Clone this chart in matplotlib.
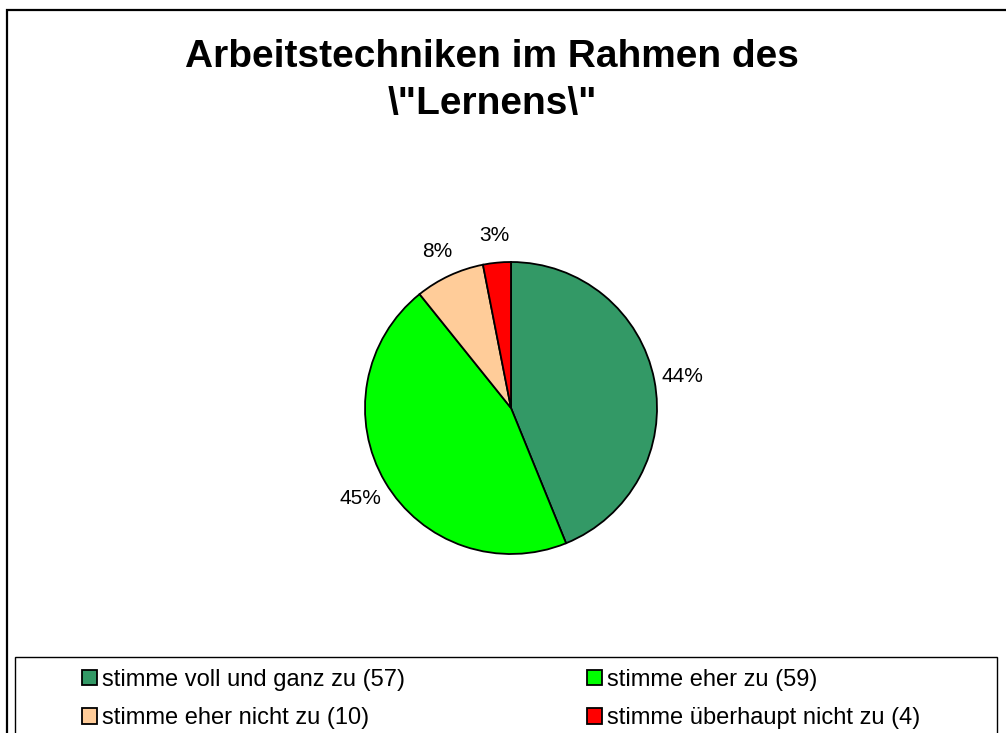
import matplotlib.pyplot as plt
from matplotlib.patches import Rectangle

# ==============================================================
# Data
# ==============================================================
labels = [
    "stimme voll und ganz zu (57)",
    "stimme eher zu (59)",
    "stimme eher nicht zu (10)",
    "stimme überhaupt nicht zu (4)",
]
counts = [57, 59, 10, 4]
colors = ["#339966", "#00ff00", "#ffcc99", "#ff0000"]
title = 'Arbeitstechniken im Rahmen des\n\\"Lernens\\"'

W, H = 1006, 733

plt.rcParams['font.family'] = ['Liberation Sans', 'DejaVu Sans']

fig = plt.figure(figsize=(W / 100, H / 100), dpi=100)

# outer chart frame (right and bottom edges run off the picture)
fig.add_artist(Rectangle((7 / W, -0.1), 1.2, 1 - 10 / H + 0.1,
                         transform=fig.transFigure, fill=False,
                         edgecolor='black', lw=1.6))

# pie axes: centre (511, 408) px, radius 146 px
cx, cy, r = 511, 408, 146
ax = fig.add_axes([(cx - r) / W, (H - cy - r) / H, 2 * r / W, 2 * r / H])
wedges, texts = ax.pie(counts, colors=colors, startangle=90, counterclock=False,
                       autopct='%.0f%%', pctdistance=1.2,
                       wedgeprops=dict(edgecolor='black', linewidth=1.3),
                       textprops=dict(fontsize=15, color='black',
                                      va='center_baseline'))[:2]
ax.set_xlim(-1, 1)
ax.set_ylim(-1, 1)
ax.set_aspect('equal')

fig.text(492 / W, 1 - 39 / H, title, ha='center', va='top',
         fontsize=28, fontweight='bold', linespacing=1.4)

# legend box
fig.add_artist(Rectangle((15 / W, -0.1), (997 - 15) / W, 0.1 + (H - 657) / H,
                         transform=fig.transFigure, fill=False,
                         edgecolor='black', lw=1.0))

# legend is filled row by row in the reference
order = [0, 2, 1, 3]
fig.legend([wedges[i] for i in order], [labels[i] for i in order],
           ncol=2, frameon=False, fontsize=17,
           loc='upper left', bbox_to_anchor=(70 / W, 1 - 657 / H),
           handlelength=0.65, handleheight=0.65, handletextpad=0.2,
           columnspacing=7.7, labelspacing=0.7, borderpad=0)

fig.savefig('out.png', dpi=100)
